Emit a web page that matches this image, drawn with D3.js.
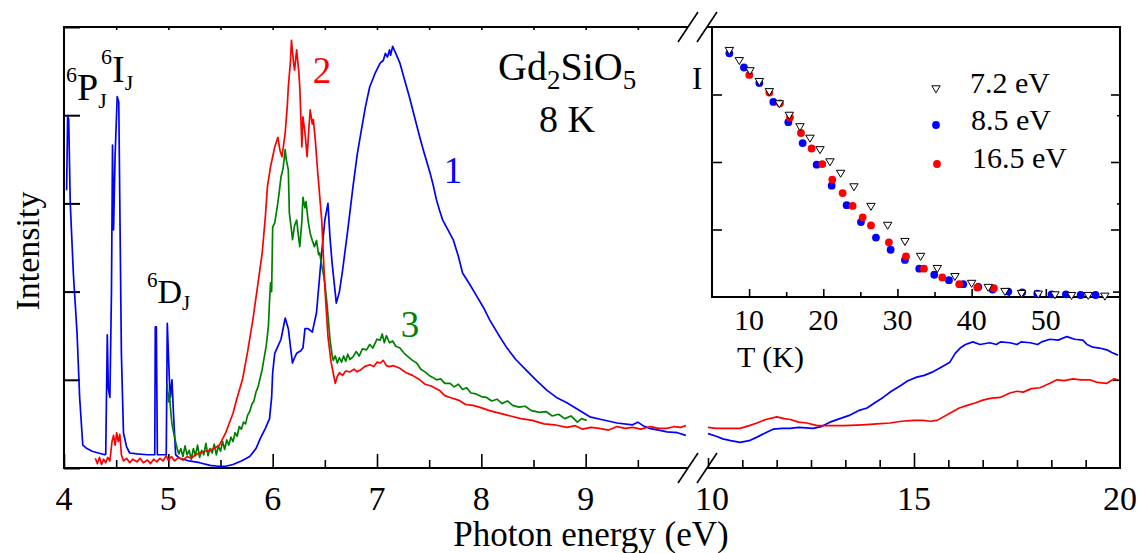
<!DOCTYPE html>
<html><head><meta charset="utf-8">
<script src="https://cdn.jsdelivr.net/npm/d3@7"></script>
<style>body{margin:0;background:#fff} svg{display:block} text{font-family:"Liberation Serif","Times New Roman",serif;fill:#000}</style>
</head><body><svg id="c" width="1138" height="553"></svg>
<script>
// ---------- DATA ----------
const xTickLabelsLeft = [4,5,6,7,8,9];
const xTickLabelsRight = [10,15,20];
const insetTickLabels = [10,20,30,40,50];

// curve 1 (blue), photon energy (eV) vs intensity (a.u.)
const blue1Left = [[4.025,3.15],[4.035,3.99],[4.045,3.95],[4.06,3.0],[4.09,2.2],[4.125,1.53],[4.15,0.8],[4.18,0.26],[4.22,0.22],[4.27,0.19],[4.33,0.17],[4.39,0.15],[4.40,0.16],[4.415,1.51],[4.425,0.90],[4.44,0.80],[4.455,2.0],[4.465,3.66],[4.475,2.70],[4.49,3.55],[4.51,4.21],[4.525,4.15],[4.535,3.0],[4.55,1.3],[4.57,0.40],[4.60,0.24],[4.63,0.17],[4.70,0.16],[4.80,0.15],[4.87,0.15],[4.875,1.60],[4.885,1.60],[4.895,0.15],[4.98,0.15],[4.99,1.64],[5.01,1.0],[5.02,0.80],[5.035,1.00],[5.05,0.6],[5.07,0.15],[5.11,0.11],[5.20,0.08],[5.30,0.06],[5.40,0.03],[5.48,0.02],[5.55,0.02],[5.62,0.04],[5.70,0.08],[5.78,0.13],[5.84,0.22],[5.88,0.33],[5.93,0.45],[5.97,0.56],[5.99,0.8],[6.00,1.08],[6.02,1.30],[6.05,1.38],[6.08,1.46],[6.12,1.70],[6.15,1.58],[6.17,1.38],[6.19,1.19],[6.21,1.25],[6.23,1.30],[6.27,1.33],[6.29,1.36],[6.31,1.58],[6.34,1.58],[6.38,1.54],[6.42,1.76],[6.445,2.1],[6.47,2.44],[6.50,2.81],[6.53,3.00],[6.55,2.6],[6.57,2.32],[6.61,1.87],[6.64,2.0],[6.67,2.24],[6.72,2.7],[6.77,3.19],[6.81,3.55],[6.85,3.83],[6.89,4.10],[6.93,4.32],[6.98,4.47],[7.03,4.59],[7.06,4.62],[7.08,4.70],[7.10,4.66],[7.12,4.74],[7.13,4.68],[7.15,4.78],[7.18,4.70],[7.22,4.59],[7.26,4.42],[7.31,4.21],[7.36,3.98],[7.41,3.75],[7.45,3.58],[7.48,3.46],[7.51,3.34],[7.54,3.20],[7.57,3.04],[7.60,2.92],[7.63,2.81],[7.68,2.70],[7.73,2.59],[7.78,2.40],[7.82,2.21],[7.89,2.08],[7.96,1.94],[8.02,1.82],[8.08,1.68],[8.16,1.52],[8.24,1.37],[8.33,1.23],[8.43,1.11],[8.53,0.99],[8.63,0.88],[8.72,0.80],[8.82,0.74],[8.93,0.66],[9.04,0.58],[9.15,0.55],[9.30,0.51],[9.45,0.49],[9.50,0.52],[9.55,0.48],[9.61,0.45],[9.70,0.43],[9.78,0.41],[9.88,0.40],[9.96,0.37]];
const blue1Right = [[10.0,0.39],[10.2,0.36],[10.36,0.33],[10.55,0.31],[10.78,0.29],[11.0,0.31],[11.19,0.35],[11.4,0.40],[11.58,0.44],[11.8,0.45],[11.99,0.45],[12.2,0.46],[12.55,0.45],[12.75,0.47],[12.96,0.52],[13.2,0.56],[13.45,0.60],[13.65,0.65],[13.86,0.68],[14.05,0.74],[14.25,0.80],[14.45,0.87],[14.66,0.93],[14.85,0.99],[15.07,1.03],[15.25,1.05],[15.46,1.09],[15.65,1.14],[15.87,1.20],[16.0,1.30],[16.12,1.36],[16.25,1.40],[16.43,1.43],[16.6,1.40],[16.84,1.42],[17.0,1.40],[17.1,1.43],[17.33,1.42],[17.5,1.40],[17.6,1.43],[17.82,1.42],[18.0,1.40],[18.1,1.43],[18.30,1.46],[18.5,1.45],[18.71,1.49],[18.9,1.46],[19.10,1.45],[19.2,1.40],[19.34,1.37],[19.5,1.36],[19.68,1.34],[19.8,1.31],[19.95,1.28]];

// curve 2 (red)
const red2Left = [[4.30,0.11],[4.32,0.05],[4.34,0.12],[4.36,0.04],[4.38,0.10],[4.40,0.06],[4.42,0.12],[4.44,0.08],[4.46,0.30],[4.475,0.37],[4.49,0.26],[4.505,0.40],[4.52,0.30],[4.535,0.38],[4.55,0.15],[4.57,0.08],[4.60,0.11],[4.63,0.06],[4.66,0.10],[4.70,0.07],[4.73,0.11],[4.76,0.06],[4.80,0.09],[4.83,0.05],[4.86,0.10],[4.89,0.07],[4.92,0.11],[4.95,0.08],[4.98,0.14],[5.00,0.09],[5.03,0.13],[5.06,0.08],[5.10,0.12],[5.14,0.09],[5.18,0.13],[5.22,0.11],[5.26,0.15],[5.30,0.17],[5.35,0.19],[5.40,0.20],[5.45,0.23],[5.49,0.26],[5.55,0.40],[5.62,0.62],[5.66,0.80],[5.71,1.00],[5.76,1.32],[5.81,1.68],[5.86,2.10],[5.90,2.44],[5.93,2.85],[5.95,3.19],[5.98,3.42],[6.02,3.64],[6.05,3.75],[6.07,3.60],[6.09,3.53],[6.12,3.80],[6.14,4.10],[6.15,4.32],[6.17,4.60],[6.18,4.85],[6.20,4.60],[6.21,4.51],[6.23,4.74],[6.25,4.50],[6.26,4.32],[6.28,3.64],[6.29,3.98],[6.31,3.80],[6.33,3.53],[6.35,3.90],[6.36,4.06],[6.38,3.90],[6.39,3.95],[6.41,3.70],[6.43,3.38],[6.47,2.81],[6.50,2.05],[6.53,1.49],[6.56,1.20],[6.58,1.08],[6.60,0.96],[6.62,1.04],[6.64,1.08],[6.67,1.05],[6.70,1.10],[6.74,1.09],[6.78,1.12],[6.81,1.09],[6.84,1.11],[6.88,1.15],[6.93,1.17],[6.97,1.15],[7.00,1.20],[7.03,1.19],[7.06,1.22],[7.09,1.16],[7.12,1.15],[7.16,1.16],[7.22,1.13],[7.28,1.08],[7.34,1.05],[7.41,1.00],[7.46,0.95],[7.52,0.93],[7.60,0.88],[7.65,0.82],[7.70,0.80],[7.78,0.77],[7.85,0.72],[7.92,0.71],[7.98,0.69],[8.08,0.65],[8.18,0.62],[8.28,0.59],[8.38,0.56],[8.49,0.54],[8.60,0.50],[8.70,0.49],[8.82,0.46],[8.90,0.48],[8.97,0.44],[9.05,0.46],[9.13,0.45],[9.22,0.43],[9.30,0.47],[9.38,0.45],[9.45,0.46],[9.53,0.44],[9.62,0.47],[9.70,0.45],[9.78,0.45],[9.85,0.47],[9.91,0.46],[9.96,0.48]];
const red2Right = [[10.0,0.46],[10.2,0.45],[10.4,0.45],[10.78,0.45],[11.0,0.48],[11.19,0.51],[11.4,0.55],[11.67,0.58],[11.85,0.56],[12.0,0.55],[12.2,0.52],[12.40,0.51],[12.65,0.48],[12.85,0.48],[13.03,0.48],[13.3,0.48],[13.76,0.49],[14.1,0.50],[14.42,0.51],[14.7,0.53],[15.0,0.54],[15.22,0.54],[15.4,0.53],[15.56,0.54],[15.87,0.62],[16.1,0.68],[16.29,0.71],[16.5,0.74],[16.67,0.77],[16.85,0.79],[17.09,0.80],[17.33,0.85],[17.5,0.87],[17.65,0.86],[17.85,0.90],[18.06,0.91],[18.3,0.96],[18.47,1.00],[18.65,0.99],[18.86,1.01],[19.05,1.00],[19.27,1.00],[19.45,0.97],[19.68,0.96],[19.85,1.01],[19.95,1.00]];

// curve 3 (green)
const green3 = [[4.99,0.96],[5.00,0.75],[5.01,0.85],[5.02,0.69],[5.03,0.55],[5.04,0.46],[5.06,0.35],[5.08,0.24],[5.10,0.16],[5.12,0.22],[5.14,0.13],[5.16,0.25],[5.18,0.15],[5.20,0.20],[5.22,0.10],[5.24,0.22],[5.26,0.14],[5.28,0.26],[5.30,0.12],[5.32,0.20],[5.34,0.15],[5.36,0.28],[5.38,0.14],[5.40,0.22],[5.42,0.17],[5.44,0.27],[5.46,0.15],[5.48,0.25],[5.50,0.19],[5.52,0.30],[5.54,0.21],[5.56,0.32],[5.58,0.26],[5.60,0.35],[5.62,0.30],[5.64,0.40],[5.66,0.36],[5.68,0.47],[5.70,0.44],[5.72,0.52],[5.74,0.50],[5.76,0.60],[5.78,0.64],[5.80,0.72],[5.82,0.76],[5.84,0.86],[5.86,0.92],[5.88,1.02],[5.90,1.12],[5.92,1.26],[5.94,1.40],[5.96,1.62],[5.97,1.90],[5.98,2.10],[5.99,2.0],[6.00,2.73],[6.02,2.78],[6.04,2.93],[6.06,3.10],[6.08,3.30],[6.10,3.40],[6.12,3.61],[6.13,3.50],[6.15,3.38],[6.16,2.89],[6.18,2.70],[6.19,2.59],[6.21,2.75],[6.23,2.81],[6.25,2.60],[6.26,2.51],[6.28,2.80],[6.29,3.07],[6.31,2.95],[6.32,3.02],[6.34,2.80],[6.36,2.66],[6.38,2.58],[6.40,2.51],[6.42,2.58],[6.44,2.42],[6.45,2.44],[6.47,2.30],[6.48,2.24],[6.50,2.10],[6.52,1.87],[6.55,1.45],[6.57,1.28],[6.58,1.22],[6.60,1.27],[6.62,1.19],[6.64,1.25],[6.66,1.20],[6.68,1.27],[6.70,1.21],[6.72,1.29],[6.74,1.23],[6.77,1.26],[6.80,1.32],[6.83,1.27],[6.86,1.35],[6.90,1.34],[6.93,1.40],[6.96,1.36],[7.00,1.46],[7.03,1.45],[7.05,1.52],[7.07,1.42],[7.09,1.50],[7.12,1.42],[7.15,1.44],[7.18,1.38],[7.22,1.36],[7.26,1.30],[7.30,1.26],[7.34,1.22],[7.38,1.19],[7.42,1.12],[7.46,1.09],[7.50,1.05],[7.53,1.03],[7.57,1.00],[7.61,1.01],[7.65,0.96],[7.70,0.96],[7.74,0.92],[7.78,0.95],[7.82,0.89],[7.86,0.91],[7.90,0.85],[7.95,0.84],[8.00,0.81],[8.05,0.80],[8.10,0.76],[8.15,0.78],[8.20,0.73],[8.25,0.76],[8.30,0.71],[8.36,0.69],[8.42,0.70],[8.48,0.65],[8.56,0.63],[8.62,0.64],[8.68,0.59],[8.74,0.61],[8.80,0.56],[8.86,0.59],[8.92,0.52],[8.96,0.56],[9.01,0.54]];

// inset: intensity vs temperature (K)
const T72 = [7.34,8.68,10.12,11.38,12.73,14.07,15.42,16.86,18.21,19.56,20.90,22.34,24.14,26.43,28.68,31.01,33.12,35.37,37.75,40.0,42.24,44.49,46.73,48.98,51.23,53.47,55.72,57.96];
const I72 = [3.65,3.50,3.35,3.19,3.04,2.86,2.69,2.52,2.35,2.18,2.00,1.83,1.63,1.34,1.06,0.82,0.60,0.42,0.30,0.20,0.14,0.08,0.05,0.04,0.03,0.02,0.02,0.01];
const T85 = [7.34,9.31,11.38,13.27,15.29,17.22,19.11,21.13,23.15,25.08,27.10,29.08,31.01,32.94,34.96,36.94,38.87,40.89,42.83,44.94,46.82,48.85,50.78,52.71,54.69,56.71];
const I85 = [3.61,3.40,3.17,2.89,2.59,2.28,1.96,1.65,1.36,1.11,0.88,0.70,0.55,0.42,0.33,0.25,0.19,0.15,0.11,0.08,0.07,0.05,0.04,0.04,0.03,0.03];
const T165 = [10.03,12.73,14.16,15.51,16.99,18.43,19.87,21.22,22.61,23.96,25.31,26.43,28.85,31.15,33.57,36.04,38.33,40.76,43.0];
const I165 = [3.29,3.03,2.87,2.66,2.43,2.20,1.97,1.74,1.54,1.35,1.18,1.06,0.81,0.60,0.42,0.29,0.19,0.14,0.13];
const legendLabels = ["7.2 eV","8.5 eV","16.5 eV"];

// ---------- LAYOUT ----------
const svg = d3.select("#c");
const L = 64, R = 1120, T = 27, B = 468;
const xL = d3.scaleLinear().domain([4,10]).range([L,690]);
const xR = d3.scaleLinear().domain([10,20]).range([708,R]);
const y  = d3.scaleLinear().domain([0,5]).range([B,T]);
const xI = d3.scaleLinear().domain([5,60]).range([712,R]);
const yI = d3.scaleLinear().domain([0,4]).range([297,T]);
const brk1 = 688, brk2 = 707;
const BLUE = "#0000ff", RED = "#ff0000", GREEN = "#008000";

function tickGroup(axisFn, scale, vals, size, tf, sw) {
  const g = svg.append("g").attr("transform", tf)
    .call(axisFn(scale).tickValues(vals).tickSize(size).tickFormat(""));
  g.select(".domain").remove();
  g.selectAll("line").attr("stroke","#000").attr("stroke-width", sw || 1.6);
}
const range = (a,b,s) => d3.range(a, b + s/2, s);

// main bottom ticks
tickGroup(d3.axisBottom, xL, range(4,9,1), -14, `translate(0,${B})`);
tickGroup(d3.axisBottom, xL, range(4.5,9.5,1), -8, `translate(0,${B})`);
tickGroup(d3.axisBottom, xR, d3.range(1,12).filter(k=>k!==6).map(k=>10+k*5/6), -8, `translate(0,${B})`);
tickGroup(d3.axisBottom, xR, [10], -10, `translate(0,${B})`);
tickGroup(d3.axisBottom, xR, [15], -15, `translate(0,${B})`);
// main top ticks
tickGroup(d3.axisTop, xL, range(4.5,9.5,0.5), -3, `translate(0,${T})`);
// main left/right ticks
tickGroup(d3.axisLeft, y, range(0,5,1), -16, `translate(${L},0)`, 2);
tickGroup(d3.axisRight, y, [1,2], -7, `translate(${R},0)`);
tickGroup(d3.axisRight, y, [3,4], -3, `translate(${R},0)`);

// frame
const frame = svg.append("g").attr("stroke","#000").attr("stroke-width",2).attr("fill","none");
frame.append("path").attr("d", `M${brk1},${T}H${L}V${B}H${brk1}`);
frame.append("path").attr("d", `M${brk2},${T}H${R}V${B}H${brk2}`);
// break marks
[brk1, brk2].forEach(bx => {
  [T, B].forEach(by => {
    frame.append("line").attr("x1", bx-10).attr("y1", by+15).attr("x2", bx+10).attr("y2", by-15).attr("stroke-width",1.6);
  });
});

// tick labels
svg.append("g").selectAll("text").data(xTickLabelsLeft).join("text")
  .attr("x", d => xL(d)).attr("y", 510).attr("text-anchor","middle").attr("font-size",34).text(d=>d);
svg.append("g").selectAll("text").data(xTickLabelsRight).join("text")
  .attr("x", d => xR(d) + (d===10?4:0)).attr("y", 510).attr("text-anchor","middle").attr("font-size",34).text(d=>d);
svg.append("text").attr("x",591).attr("y",546).attr("text-anchor","middle").attr("font-size",35).text("Photon energy (eV)");
svg.append("text").attr("transform","translate(39,251) rotate(-90)").attr("text-anchor","middle").attr("font-size",34).text("Intensity");

// curves
const lineL = d3.line().x(d=>xL(d[0])).y(d=>y(d[1]));
const lineR = d3.line().x(d=>xR(d[0])).y(d=>y(d[1]));
const curves = svg.append("g").attr("fill","none").attr("stroke-width",1.7).attr("stroke-linejoin","round");
curves.append("path").attr("d", lineL(blue1Left)).attr("stroke", BLUE);
curves.append("path").attr("d", lineR(blue1Right)).attr("stroke", BLUE);
curves.append("path").attr("d", lineL(green3)).attr("stroke", GREEN);
curves.append("path").attr("d", lineL(red2Left)).attr("stroke", RED);
curves.append("path").attr("d", lineR(red2Right)).attr("stroke", RED);

// curve labels
svg.append("text").attr("x",453).attr("y",183).attr("text-anchor","middle").attr("font-size",37).style("fill",BLUE).text("1");
svg.append("text").attr("x",322).attr("y",83).attr("text-anchor","middle").attr("font-size",37).style("fill",RED).text("2");
svg.append("text").attr("x",410).attr("y",337).attr("text-anchor","middle").attr("font-size",37).style("fill",GREEN).text("3");

// term labels
function term(x, yb, sup, main, sub, fs, ss) {
  const t = svg.append("text").attr("x", x).attr("y", yb).attr("font-size", fs);
  t.append("tspan").attr("font-size", ss).attr("dy", -fs*0.48).text(sup);
  t.append("tspan").attr("dy", fs*0.48).text(main);
  t.append("tspan").attr("font-size", ss).attr("dy", fs*0.22).text(sub);
}
term(66, 100, "6", "P", "J", 38, 22);
term(101, 82, "6", "I", "J", 38, 22);
term(147, 303, "6", "D", "J", 34, 21);

// title
const ti = svg.append("text").attr("x",498).attr("y",80).attr("font-size",40);
ti.append("tspan").text("Gd");
ti.append("tspan").attr("font-size",27).attr("dy",9).text("2");
ti.append("tspan").attr("dy",-9).text("SiO");
ti.append("tspan").attr("font-size",27).attr("dy",9).text("5");
svg.append("text").attr("x",567).attr("y",132).attr("text-anchor","middle").attr("font-size",38).text("8 K");

// ---------- INSET ----------
svg.append("rect").attr("x",712).attr("y",T).attr("width",R-712).attr("height",297-T).attr("fill","#fff").lower();
tickGroup(d3.axisBottom, xI, range(10,50,10), -8, `translate(0,297)`);
tickGroup(d3.axisBottom, xI, range(15,55,10), -5, `translate(0,297)`);
tickGroup(d3.axisLeft, yI, [1,2,3], -10, `translate(712,0)`);
tickGroup(d3.axisRight, yI, [1,2,3], -9, `translate(${R},0)`);
svg.append("path").attr("d", `M712,${T}V297H${R}`).attr("stroke","#000").attr("stroke-width",2).attr("fill","none");
svg.append("g").selectAll("text").data(insetTickLabels).join("text")
  .attr("x", d => xI(d)).attr("y", 330).attr("text-anchor","middle").attr("font-size",30).text(d=>d);
svg.append("text").attr("x",737).attr("y",367).attr("font-size",30).text("T (K)");
svg.append("text").attr("x",692).attr("y",89).attr("font-size",31).text("I");

const tri = "M-4.2,-3.2L4.2,-3.2L0,3.8Z";
const pts = svg.append("g");
pts.selectAll("circle.b").data(T85.map((t,i)=>[t,I85[i]])).join("circle").attr("class","b")
  .attr("cx",d=>xI(d[0])).attr("cy",d=>yI(d[1])).attr("r",3.9).attr("fill",BLUE);
pts.selectAll("circle.r").data(T165.map((t,i)=>[t,I165[i]])).join("circle").attr("class","r")
  .attr("cx",d=>xI(d[0])).attr("cy",d=>yI(d[1])).attr("r",3.9).attr("fill",RED);
pts.selectAll("path.t").data(T72.map((t,i)=>[t,I72[i]])).join("path").attr("class","t")
  .attr("d",tri).attr("transform",d=>`translate(${xI(d[0])},${yI(d[1])})`)
  .attr("fill","#fff").attr("stroke","#000").attr("stroke-width",1);

// legend
const leg = svg.append("g");
leg.append("path").attr("d",tri).attr("transform","translate(936,89)").attr("fill","#fff").attr("stroke","#000").attr("stroke-width",1);
leg.append("circle").attr("cx",936).attr("cy",125).attr("r",3.9).attr("fill",BLUE);
leg.append("circle").attr("cx",937).attr("cy",164).attr("r",3.9).attr("fill",RED);
leg.selectAll("text").data(legendLabels).join("text")
  .attr("x",(d,i)=>[970,971,972][i]).attr("y",(d,i)=>[93,130,168][i]).attr("font-size",30).text(d=>d);
</script></body></html>
